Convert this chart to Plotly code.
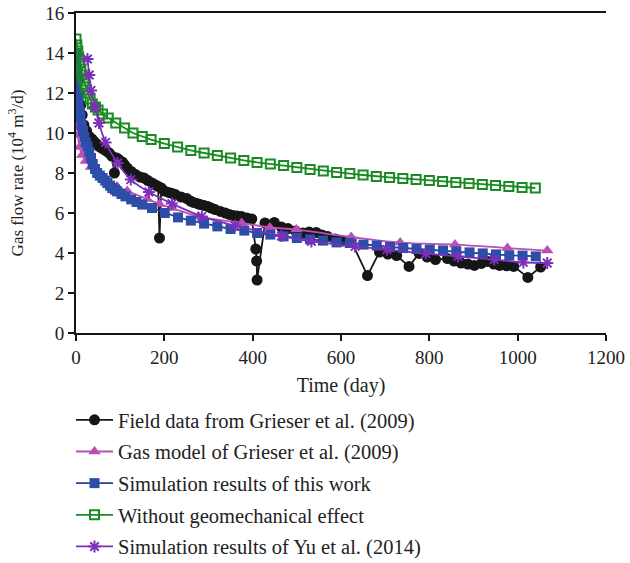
import plotly.graph_objects as go

# ---- data ----
field_t = [1, 3, 5, 8, 11, 14, 18, 24, 30, 36, 41, 47, 52, 58, 64, 70, 75, 81, 87, 92, 97, 105, 110, 116,
           125, 135, 145, 154, 163, 172, 180, 186, 189, 193, 200, 210, 218, 225, 238, 251, 259, 266, 274,
           281, 290, 298, 306, 315, 327, 338, 347, 356, 365, 375, 387, 398, 407, 409, 410, 428, 449, 465,
           480, 497, 514, 528, 544, 557, 570, 587, 604, 623, 660, 687, 706, 726, 754, 777, 795, 814, 841,
           856, 872, 887, 902, 918, 932, 946, 959, 975, 991, 1023, 1052]
field_q = [13.9, 13.2, 12.6, 12.0, 11.4, 10.9, 10.4, 10.1, 9.83, 9.7, 9.58, 9.45, 9.33, 9.25, 9.17, 9.08,
           9.0, 8.85, 8.0, 8.75, 8.67, 8.55, 8.4, 8.25, 8.08, 7.92, 7.8, 7.75, 7.62, 7.5, 7.4, 7.33, 4.75,
           7.25, 7.1, 7.03, 6.97, 6.92, 6.8, 6.72, 6.6, 6.53, 6.48, 6.42, 6.38, 6.33, 6.25, 6.17, 6.08, 6.0,
           5.93, 5.87, 5.85, 5.83, 5.75, 5.70, 4.2, 3.6, 2.65, 5.5, 5.53, 5.3, 5.22, 5.1, 5.0, 5.05, 5.03,
           4.9, 4.82, 4.7, 4.6, 4.6, 2.87, 4.05, 3.95, 3.87, 3.33, 3.98, 3.8, 3.67, 3.72, 3.6, 3.5, 3.45,
           3.38, 3.48, 3.58, 3.45, 3.38, 3.36, 3.33, 2.78, 3.3]

model_t = [0, 2, 4, 8, 14, 22, 34, 52, 72, 93, 116, 161, 189, 217, 277, 375, 439, 499, 623, 734, 858, 977, 1067]
model_q = [10.75, 10.3, 9.9, 9.3, 8.9, 8.6, 8.3, 7.95, 7.6, 7.33, 7.1, 6.7, 6.45, 6.25, 5.83, 5.5, 5.28,
           5.17, 4.8, 4.52, 4.42, 4.25, 4.12]

sim_t = [0, 1, 2, 3, 4, 6, 8, 10, 13, 16, 19, 22, 26, 30, 34, 38, 43, 48, 54, 60, 66, 71, 77, 82, 88, 93,
         103, 112, 125, 137, 150, 172, 201, 231, 260, 290, 320, 350, 381, 410, 440, 470, 500, 530, 559, 590,
         620, 651, 681, 711, 741, 771, 801, 831, 861, 891, 921, 951, 981, 1011, 1041]
sim_q = [14.0, 13.5, 13.0, 12.5, 12.0, 11.5, 11.1, 10.8, 10.4, 10.1, 9.8, 9.55, 9.33, 9.05, 8.75, 8.45,
         8.2, 8.0, 7.87, 7.75, 7.62, 7.5, 7.37, 7.25, 7.17, 7.08, 6.95, 6.83, 6.68, 6.55, 6.42, 6.25, 6.0,
         5.78, 5.62, 5.47, 5.33, 5.2, 5.12, 5.0, 4.92, 4.83, 4.75, 4.68, 4.62, 4.53, 4.5, 4.42, 4.37, 4.3,
         4.25, 4.2, 4.17, 4.13, 4.08, 4.03, 3.98, 3.93, 3.88, 3.87, 3.83]

nogeo_t = [0, 2, 4, 6, 8, 11, 14, 18, 22, 27, 32, 37, 44, 50, 60, 73, 90, 110, 129, 150, 170,
           200, 230, 260, 290, 320, 350, 380, 410, 440, 470, 500, 530, 560, 590, 620, 650, 680, 710,
           740, 770, 800, 830, 860, 890, 920, 950, 980, 1010, 1040]
nogeo_q = [14.7, 14.4, 14.1, 13.8, 13.5, 13.2, 12.9, 12.6, 12.3, 12.0, 11.7, 11.45, 11.3, 11.15, 10.95,
           10.75, 10.5, 10.25, 10.0, 9.83, 9.67, 9.47, 9.30, 9.13, 9.0, 8.87, 8.75, 8.63, 8.53, 8.45,
           8.37, 8.28, 8.18, 8.10, 8.03, 7.97, 7.90, 7.83, 7.78, 7.73, 7.68, 7.63, 7.58, 7.52, 7.47, 7.42,
           7.37, 7.33, 7.28, 7.25]

yu_t = [26, 30, 34, 43, 52, 67, 94, 124, 165, 217, 285, 360, 465, 533, 632, 704, 792, 865, 947, 1013, 1067]
yu_q = [13.7, 12.9, 12.13, 11.3, 10.5, 9.53, 8.5, 7.67, 7.05, 6.47, 5.83, 5.37, 4.85, 4.58, 4.33, 4.17,
        3.97, 3.83, 3.67, 3.53, 3.5]

names = ["Field data from Grieser et al. (2009)",
         "Gas model of Grieser et al. (2009)",
         "Simulation results of this work",
         "Without geomechanical effect",
         "Simulation results of Yu et al. (2014)"]

x_ticks = [0, 200, 400, 600, 800, 1000, 1200]
y_ticks = [0, 2, 4, 6, 8, 10, 12, 14, 16]

SERIF = "Liberation Serif, Times New Roman, serif"

fig = go.Figure()
fig.add_trace(go.Scatter(x=field_t, y=field_q, name=names[0], mode="lines+markers",
                         line=dict(color="#161616", width=1.8),
                         marker=dict(symbol="circle", size=11, color="#161616"),
                         legendgroup="a"))
fig.add_trace(go.Scatter(x=model_t, y=model_q, name=names[1], mode="lines+markers",
                         line=dict(color="#bb4fb8", width=1.8, shape="spline"),
                         marker=dict(symbol="triangle-up", size=11, color="#bb4fb8"),
                         legendgroup="b"))
fig.add_trace(go.Scatter(x=sim_t, y=sim_q, name=names[2], mode="lines+markers",
                         line=dict(color="#2a3f9a", width=1.8),
                         marker=dict(symbol="square", size=10, color="#2d4ea8"),
                         legendgroup="c"))
fig.add_trace(go.Scatter(x=nogeo_t, y=nogeo_q, name=names[3], mode="lines+markers",
                         line=dict(color="#1a8a22", width=1.8),
                         marker=dict(symbol="square-open", size=9, color="#1a8a22",
                                     line=dict(width=2, color="#1a8a22")),
                         legendgroup="d"))
fig.add_trace(go.Scatter(x=yu_t, y=yu_q, name=names[4], mode="lines+markers",
                         line=dict(color="#7a30b8", width=1.8, shape="spline"),
                         marker=dict(symbol="asterisk-open", size=10, color="#7a30b8",
                                     line=dict(width=2, color="#7a30b8")),
                         legendgroup="e"))

fig.update_layout(
    width=630, height=563,
    margin=dict(l=76, r=24, t=13, b=230),
    paper_bgcolor="white", plot_bgcolor="white",
    font=dict(family=SERIF, size=19, color="#222222"),
    showlegend=True,
    legend=dict(x=-0.0094, xref="paper", y=1 - 400 / 563, yref="container",
                xanchor="left", yanchor="top",
                font=dict(family=SERIF, size=20.5, color="#222222"),
                itemwidth=37,
                traceorder="grouped", tracegroupgap=2,
                bgcolor="rgba(0,0,0,0)"),
)
fig.update_xaxes(range=[0, 1200], tickvals=x_ticks, ticks="outside", ticklen=6, tickwidth=1.5,
                 tickcolor="#161616", showline=True, linecolor="#161616", linewidth=2, mirror=True,
                 showgrid=False, zeroline=False, automargin=False,
                 title=dict(text="Time (day)", font=dict(family=SERIF, size=20), standoff=11),
                 tickfont=dict(family=SERIF, size=19))
fig.update_yaxes(range=[0, 16], tickvals=y_ticks, ticks="outside", ticklen=6, tickwidth=1.5,
                 tickcolor="#161616", showline=True, linecolor="#161616", linewidth=2, mirror=False,
                 showgrid=False, zeroline=False, automargin=False,
                 title=dict(text="Gas flow rate (10<sup>4</sup> m<sup>3</sup>/d)",
                            font=dict(family=SERIF, size=17), standoff=17),
                 tickfont=dict(family=SERIF, size=19))

fig.write_html("out.html")
